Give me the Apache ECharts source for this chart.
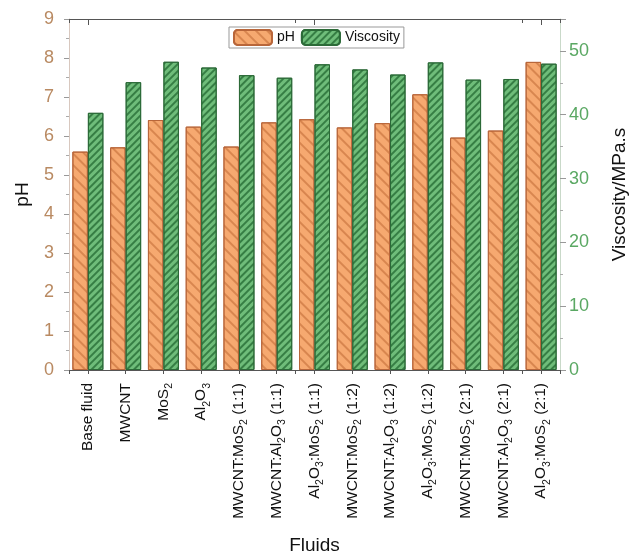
<!DOCTYPE html>
<html>
<head>
<meta charset="utf-8">
<script src="https://cdn.jsdelivr.net/npm/echarts@6/dist/echarts.min.js"></script>
<style>html,body{margin:0;padding:0;background:#fff}#c{width:637px;height:560px}</style>
</head>
<body>
<div id="c"></div>
<script>
const categories = [
  'Base fluid', 'MWCNT', 'MoS{s|2}', 'Al{s|2}O{s|3}',
  'MWCNT:MoS{s|2} (1:1)', 'MWCNT:Al{s|2}O{s|3} (1:1)', 'Al{s|2}O{s|3}:MoS{s|2} (1:1)',
  'MWCNT:MoS{s|2} (1:2)', 'MWCNT:Al{s|2}O{s|3} (1:2)', 'Al{s|2}O{s|3}:MoS{s|2} (1:2)',
  'MWCNT:MoS{s|2} (2:1)', 'MWCNT:Al{s|2}O{s|3} (2:1)', 'Al{s|2}O{s|3}:MoS{s|2} (2:1)'
];
const phValues = [5.6, 5.71, 6.41, 6.24, 5.73, 6.35, 6.43, 6.22, 6.33, 7.07, 5.96, 6.14, 7.9];
const viscosityValues = [40.3, 45.1, 48.3, 47.4, 46.2, 45.8, 47.9, 47.1, 46.3, 48.2, 45.5, 45.6, 48.0];
const phTicks = [0, 1, 2, 3, 4, 5, 6, 7, 8, 9];
const viscTicks = [0, 10, 20, 30, 40, 50];

const FONT = 'Liberation Sans, Arial, Helvetica, sans-serif';
const chart = echarts.init(document.getElementById('c'), null, {renderer: 'canvas'});

function catAxis(pos, center, showLabel, tickInside, tickLen) {
  return {
    type: 'category', data: categories, position: pos,
    axisLine: {show: true, lineStyle: {color: '#555', width: 1}},
    axisTick: {show: true, alignWithLabel: center, inside: tickInside, length: tickLen, lineStyle: {color: '#555'}},
    axisLabel: showLabel ? {
      show: true, rotate: 90, interval: 0, color: '#111', fontFamily: FONT, fontSize: 15.5, margin: 13,
      rich: {
        s: {fontSize: 10.5, fontFamily: FONT, color: '#111', verticalAlign: 'bottom', lineHeight: 10, padding: [0, 0, -3, 0]}
      }
    } : {show: false},
    splitLine: {show: false}
  };
}

const xAxes = [
  Object.assign(catAxis('bottom', true, true, false, 4), {
    name: 'Fluids', nameLocation: 'middle', nameGap: 166,
    nameTextStyle: {fontSize: 19, fontFamily: FONT, color: '#111'}
  }),
  catAxis('bottom', false, false, false, 4),
  catAxis('top', true, false, true, 6),
  catAxis('top', false, false, true, 4)
];

const option = {
  animation: false,
  backgroundColor: '#ffffff',
  grid: {left: 69, right: 74, top: 19, bottom: 190, containLabel: false},
  legend: {
    left: 229, top: 27,
    data: ['pH', 'Viscosity'],
    itemWidth: 38, itemHeight: 15, itemGap: 6,
    padding: [2, 4, 2, 4],
    borderColor: '#999', borderWidth: 1, backgroundColor: '#fff',
    textStyle: {fontSize: 14, fontFamily: FONT, color: '#111'}
  },
  xAxis: xAxes,
  yAxis: [
    {
      type: 'value', min: 0, max: 9, interval: 1, position: 'left',
      name: 'pH', nameLocation: 'middle', nameGap: 37,
      nameTextStyle: {fontSize: 19, fontFamily: FONT, color: '#111'},
      axisLine: {show: true, lineStyle: {color: '#d8c8bf'}},
      axisTick: {show: true, length: 5, lineStyle: {color: '#999'}},
      minorTick: {show: true, splitNumber: 2, length: 3, lineStyle: {color: '#aaa'}},
      axisLabel: {color: '#b98a62', fontSize: 18, fontFamily: FONT, margin: 15,
        formatter: v => phTicks.includes(v) ? String(v) : ''},
      splitLine: {show: false}
    },
    {
      type: 'value', min: 0, max: 55, interval: 10, position: 'right',
      name: 'Viscosity/MPa.s', nameLocation: 'middle', nameGap: 50,
      nameTextStyle: {fontSize: 19, fontFamily: FONT, color: '#111'},
      axisLine: {show: true, lineStyle: {color: '#c9d9c9'}},
      axisTick: {show: true, length: 6, lineStyle: {color: '#999'}},
      minorTick: {show: true, splitNumber: 2, length: 3, lineStyle: {color: '#aaa'}},
      axisLabel: {color: '#5aa863', fontSize: 18, fontFamily: FONT, margin: 9,
        formatter: v => viscTicks.includes(v) ? String(v) : ''},
      splitLine: {show: false}
    }
  ],
  series: [
    {
      name: 'pH', type: 'bar', xAxisIndex: 0, yAxisIndex: 0,
      data: phValues, barWidth: 15.5, barGap: '0%',
      itemStyle: {
        color: '#f6a970', borderColor: '#b8663a', borderWidth: 1,
        decal: {symbol: 'rect', dashArrayX: [1, 0], dashArrayY: [1.5, 6], rotation: Math.PI / 4, color: 'rgba(180,90,40,0.45)'}
      }
    },
    {
      name: 'Viscosity', type: 'bar', xAxisIndex: 0, yAxisIndex: 1,
      data: viscosityValues, barWidth: 15.5, barGap: '0%',
      itemStyle: {
        color: '#6fbd7a', borderColor: '#2c6a38', borderWidth: 1,
        decal: {symbol: 'rect', dashArrayX: [1, 0], dashArrayY: [1.5, 3], rotation: -Math.PI / 4, color: 'rgba(30,100,45,0.7)'}
      }
    }
  ]
};
chart.setOption(option);
</script>
</body>
</html>
